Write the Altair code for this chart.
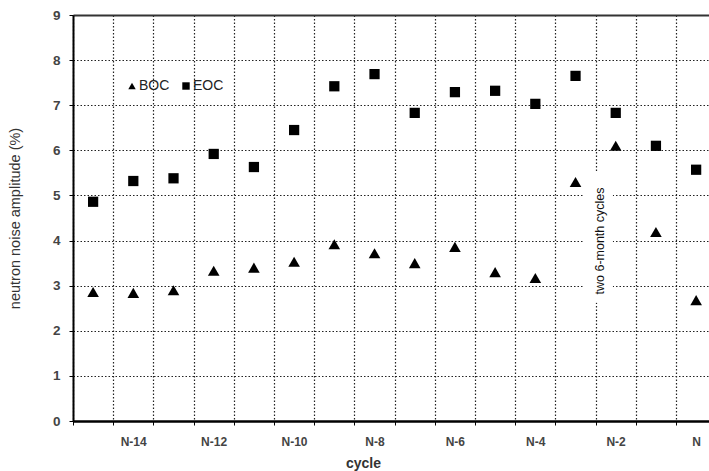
import json
import altair as alt
import pandas as pd

cycles = ["N-15", "N-14", "N-13", "N-12", "N-11", "N-10", "N-9", "N-8",
          "N-7", "N-6", "N-5", "N-4", "N-3", "N-2", "N-1", "N"]
boc = [2.86, 2.84, 2.90, 3.33, 3.40, 3.53, 3.92, 3.72,
       3.50, 3.86, 3.30, 3.17, 5.30, 6.10, 4.19, 2.68]
eoc = [4.86, 5.32, 5.38, 5.92, 5.63, 6.45, 7.42, 7.69,
       6.83, 7.29, 7.32, 7.03, 7.65, 6.83, 6.10, 5.57]
series = ["BOC", "EOC"]
y_ticks = list(range(0, 10))

# annotation: "two 6-month cycles" between N-3 and N-2
note_text = ["two 6-month cycles"]
note_x = [12.62]
note_y = [3.99]
note_box_x = [12.2]
note_box_x2 = [12.93]
note_box_y = [2.62]
note_box_y2 = [5.52]

rows = []
for i, c in enumerate(cycles):
    rows.append({"idx": i, "cycle": c, "series": "BOC", "value": boc[i]})
    rows.append({"idx": i, "cycle": c, "series": "EOC", "value": eoc[i]})
df = pd.DataFrame(rows)

note_df = pd.DataFrame({"text": note_text, "x": note_x, "y": note_y,
                        "bx": note_box_x, "bx2": note_box_x2,
                        "by": note_box_y, "by2": note_box_y2})

FONT = "Liberation Sans"
x_domain = [-0.5, 15.32]
boundaries = [i - 0.5 for i in range(len(cycles))]

label_expr = ("(datum.value + 0.5) % 2 == 1 ? " + json.dumps(cycles) +
              "[datum.value + 0.5] : ''")

x_scale = alt.Scale(domain=x_domain, nice=False, zero=False)
y_scale = alt.Scale(domain=[0, 9], nice=False)

GRID = "#222"

x_axis = alt.Axis(
    values=boundaries, labelExpr=label_expr, labelOffset=20,
    labelOverlap=False, labelFlush=False, labelBound=False,
    labelFont=FONT, labelFontSize=12, labelFontWeight="bold", labelColor="#444",
    labelPadding=11, labelBaseline="top",
    tickSize=4, tickColor="#000", tickWidth=1,
    domainColor="#000", domainWidth=2.5,
    grid=True, gridColor=GRID, gridDash=[1.5, 2], gridWidth=1.2,
    title="cycle", titleFont=FONT, titleFontSize=14, titleFontWeight="bold",
    titleColor="#333", titleX=290, titleY=46, titleAlign="center",
    titleBaseline="alphabetic",
)

y_axis = alt.Axis(
    values=y_ticks, format="d",
    labelFont=FONT, labelFontSize=13.5, labelFontWeight="bold", labelColor="#444",
    labelPadding=9, tickSize=4, tickColor="#000", tickWidth=1,
    domainColor="#000", domainWidth=2,
    grid=True,
    gridColor={"condition": {"test": "datum.value == 9", "value": "#333"}, "value": GRID},
    gridDash={"condition": {"test": "datum.value == 9", "value": []}, "value": [1.5, 2]},
    gridWidth={"condition": {"test": "datum.value == 9", "value": 2}, "value": 1.2},
    title="neutron noise amplitude (%)", titleFont=FONT, titleFontSize=14.5,
    titleFontWeight="normal", titleColor="#333",
    titleX=-58, titleY=203, titleAngle=270, titleAlign="center",
    titleBaseline="middle",
)

box = alt.Chart(note_df).mark_rect(fill="white").encode(
    x=alt.X("bx:Q", scale=x_scale, axis=x_axis),
    x2="bx2:Q",
    y=alt.Y("by:Q", scale=y_scale, axis=y_axis),
    y2="by2:Q",
)

note = alt.Chart(note_df).mark_text(
    angle=270, font=FONT, fontSize=12.5, color="#111", align="center",
    baseline="middle",
).encode(
    x=alt.X("x:Q", scale=x_scale),
    y=alt.Y("y:Q", scale=y_scale),
    text="text:N",
)

points = alt.Chart(df).mark_point(filled=True, color="black", opacity=1).encode(
    x=alt.X("idx:Q", scale=x_scale),
    y=alt.Y("value:Q", scale=y_scale),
    shape=alt.Shape(
        "series:N",
        scale=alt.Scale(domain=series, range=["triangle-up", "square"]),
        legend=alt.Legend(
            title=None, orient="none", legendX=52, legendY=64,
            direction="horizontal", symbolSize=55, symbolFillColor="black",
            symbolStrokeColor="black", symbolStrokeWidth=0,
            labelFont=FONT, labelFontSize=14, labelColor="#222",
            labelOffset=0, columnPadding=9, symbolOffset=0,
        ),
    ),
    size=alt.condition("datum.series == 'BOC'", alt.value(135), alt.value(105)),
)

chart = alt.layer(box, note, points).properties(
    width=636, height=406,
    autosize=alt.AutoSizeParams(type="none"),
    padding={"left": 73, "top": 15, "right": 0, "bottom": 50},
).configure_view(stroke=None).configure(background="white")

chart.save("out.html", embed_options={"renderer": "svg", "actions": False})
